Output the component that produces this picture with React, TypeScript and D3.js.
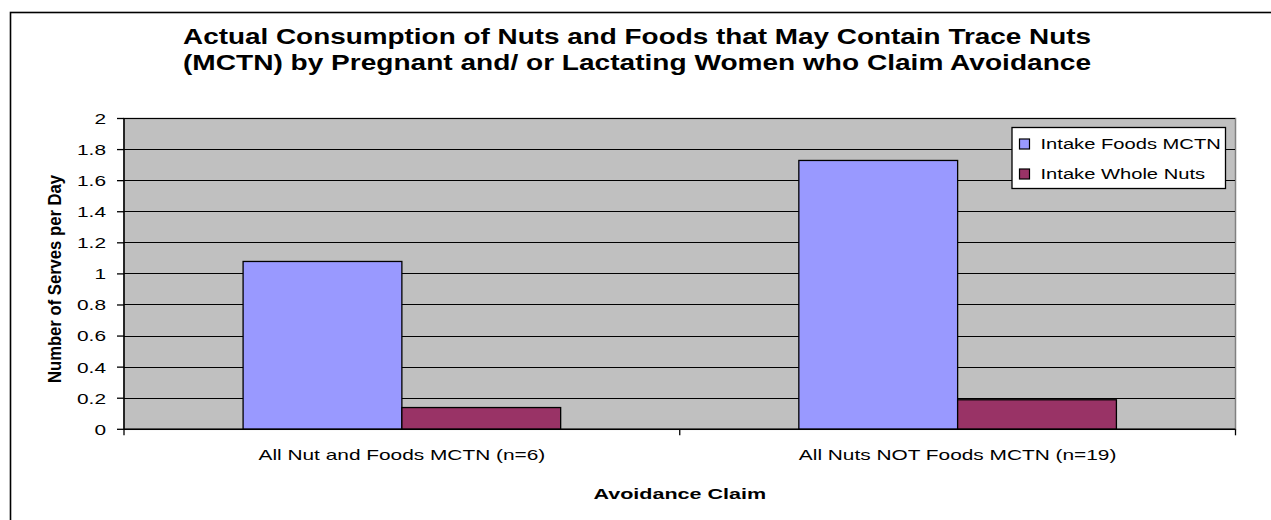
import React from "react";
import * as d3 from "d3";

const categories = ["All Nut and Foods MCTN (n=6)", "All Nuts NOT Foods MCTN (n=19)"];
const seriesNames = ["Intake Foods MCTN", "Intake Whole Nuts"];
const intakeFoodsMCTN = [1.08, 1.73];
const intakeWholeNuts = [0.14, 0.19];
const seriesColors = ["#9999FF", "#993366"];
const yTicks = [0, 0.2, 0.4, 0.6, 0.8, 1, 1.2, 1.4, 1.6, 1.8, 2];
const yTickLabels = ["0", "0.2", "0.4", "0.6", "0.8", "1", "1.2", "1.4", "1.6", "1.8", "2"];
const titleLines = [
  "Actual Consumption of Nuts and Foods that May Contain Trace Nuts",
  "(MCTN) by Pregnant and/ or Lactating Women who Claim Avoidance",
];
const xTitle = "Avoidance Claim";
const yTitle = "Number of Serves per Day";

const FONT = "'Liberation Sans', Arial, Helvetica, sans-serif";
const SX = 1.39;

const W = 1271;
const H = 520;
const plot = { left: 124, right: 1235.5, top: 118.5, bottom: 429.3 };

function SText(props: {
  x: number;
  y: number;
  sx?: number;
  anchor?: string;
  size: number;
  bold?: boolean;
  dy?: string;
  children: React.ReactNode;
}) {
  const { x, y, sx = SX, anchor = "start", size, bold, dy, children } = props;
  return (
    <text
      transform={`translate(${x},${y}) scale(${sx},1)`}
      textAnchor={anchor}
      fontSize={size}
      fontWeight={bold ? "bold" : "normal"}
      fontFamily={FONT}
      dy={dy}
      fill="#000"
    >
      {children}
    </text>
  );
}

export default function App() {
  const y = d3.scaleLinear().domain([0, 2]).range([plot.bottom, plot.top]);
  const x0 = d3.scaleBand<string>().domain(categories).range([plot.left, plot.right]).padding(0);
  const bw = x0.bandwidth();
  const barW = bw / 3.5;
  const x1 = d3
    .scaleBand<string>()
    .domain(seriesNames)
    .range([(bw - 2 * barW) / 2, (bw + 2 * barW) / 2])
    .padding(0);
  const seriesValues = [intakeFoodsMCTN, intakeWholeNuts];

  const catBoundaries = [plot.left, ...categories.map((c) => (x0(c) as number) + bw)];

  return (
    <svg
      width={W}
      height={H}
      style={{ position: "absolute", left: 0, top: 0, background: "#fff" }}
    >
      <rect x={0} y={0} width={W} height={H} fill="#fff" />
      {/* outer chart border */}
      <rect x={10.5} y={12.5} width={1300} height={600} fill="none" stroke="#000" strokeWidth={1.6} />

      {/* title */}
      {titleLines.map((t, i) => (
        <text
          key={i}
          x={637}
          y={43.5 + i * 26.5}
          textAnchor="middle"
          fontSize={22.5}
          fontWeight="bold"
          fontFamily={FONT}
          textLength={908}
          lengthAdjust="spacingAndGlyphs"
        >
          {t}
        </text>
      ))}

      {/* plot area */}
      <rect
        x={plot.left}
        y={plot.top}
        width={plot.right - plot.left}
        height={plot.bottom - plot.top}
        fill="#C0C0C0"
        stroke="#808080"
        strokeWidth={1.5}
      />
      {/* gridlines */}
      {yTicks.slice(1).map((t) => (
        <line
          key={t}
          x1={plot.left}
          x2={plot.right - 1}
          y1={y(t)}
          y2={y(t)}
          stroke="#000"
          strokeWidth={1}
          shapeRendering="crispEdges"
        />
      ))}

      {/* bars */}
      {seriesNames.map((s, si) =>
        categories.map((c, ci) => {
          const v = seriesValues[si][ci];
          const bx = (x0(c) as number) + (x1(s) as number);
          return (
            <rect
              key={s + c}
              x={bx}
              y={y(v)}
              width={x1.bandwidth()}
              height={plot.bottom - y(v)}
              fill={seriesColors[si]}
              stroke="#000"
              strokeWidth={1.3}
            />
          );
        })
      )}

      {/* y axis */}
      <line x1={plot.left} x2={plot.left} y1={plot.top} y2={plot.bottom} stroke="#000" strokeWidth={1.5} />
      {yTicks.map((t, i) => (
        <g key={t}>
          <line x1={plot.left - 7} x2={plot.left} y1={y(t)} y2={y(t)} stroke="#000" strokeWidth={1.3} />
          <SText x={106} y={y(t)} anchor="end" size={15} dy="0.36em">
            {yTickLabels[i]}
          </SText>
        </g>
      ))}

      {/* x axis */}
      <line x1={plot.left} x2={plot.right} y1={plot.bottom} y2={plot.bottom} stroke="#000" strokeWidth={1.5} />
      {catBoundaries.map((b, i) => (
        <line key={i} x1={b} x2={b} y1={plot.bottom} y2={plot.bottom + 6} stroke="#000" strokeWidth={1.3} />
      ))}
      {categories.map((c) => (
        <SText key={c} x={(x0(c) as number) + bw / 2} y={460} anchor="middle" size={15}>
          {c}
        </SText>
      ))}

      {/* axis titles */}
      <SText x={(plot.left + plot.right) / 2} y={498.5} anchor="middle" size={15.5} bold>
        {xTitle}
      </SText>
      <text
        transform={`translate(61,279) scale(1.25,1) rotate(-90)`}
        textAnchor="middle"
        fontSize={15}
        fontWeight="bold"
        fontFamily={FONT}
        textLength={208}
        lengthAdjust="spacingAndGlyphs"
      >
        {yTitle}
      </text>

      {/* legend */}
      <rect x={1012} y={127.5} width={213.5} height={61} fill="#fff" stroke="#000" strokeWidth={1.3} />
      {seriesNames.map((s, i) => (
        <g key={s}>
          <rect
            x={1019.5}
            y={139 + i * 30}
            width={10}
            height={10}
            fill={seriesColors[i]}
            stroke="#000"
            strokeWidth={1.2}
          />
          <SText x={1040.5} y={149.2 + i * 30} size={14.5}>
            {s}
          </SText>
        </g>
      ))}
    </svg>
  );
}
